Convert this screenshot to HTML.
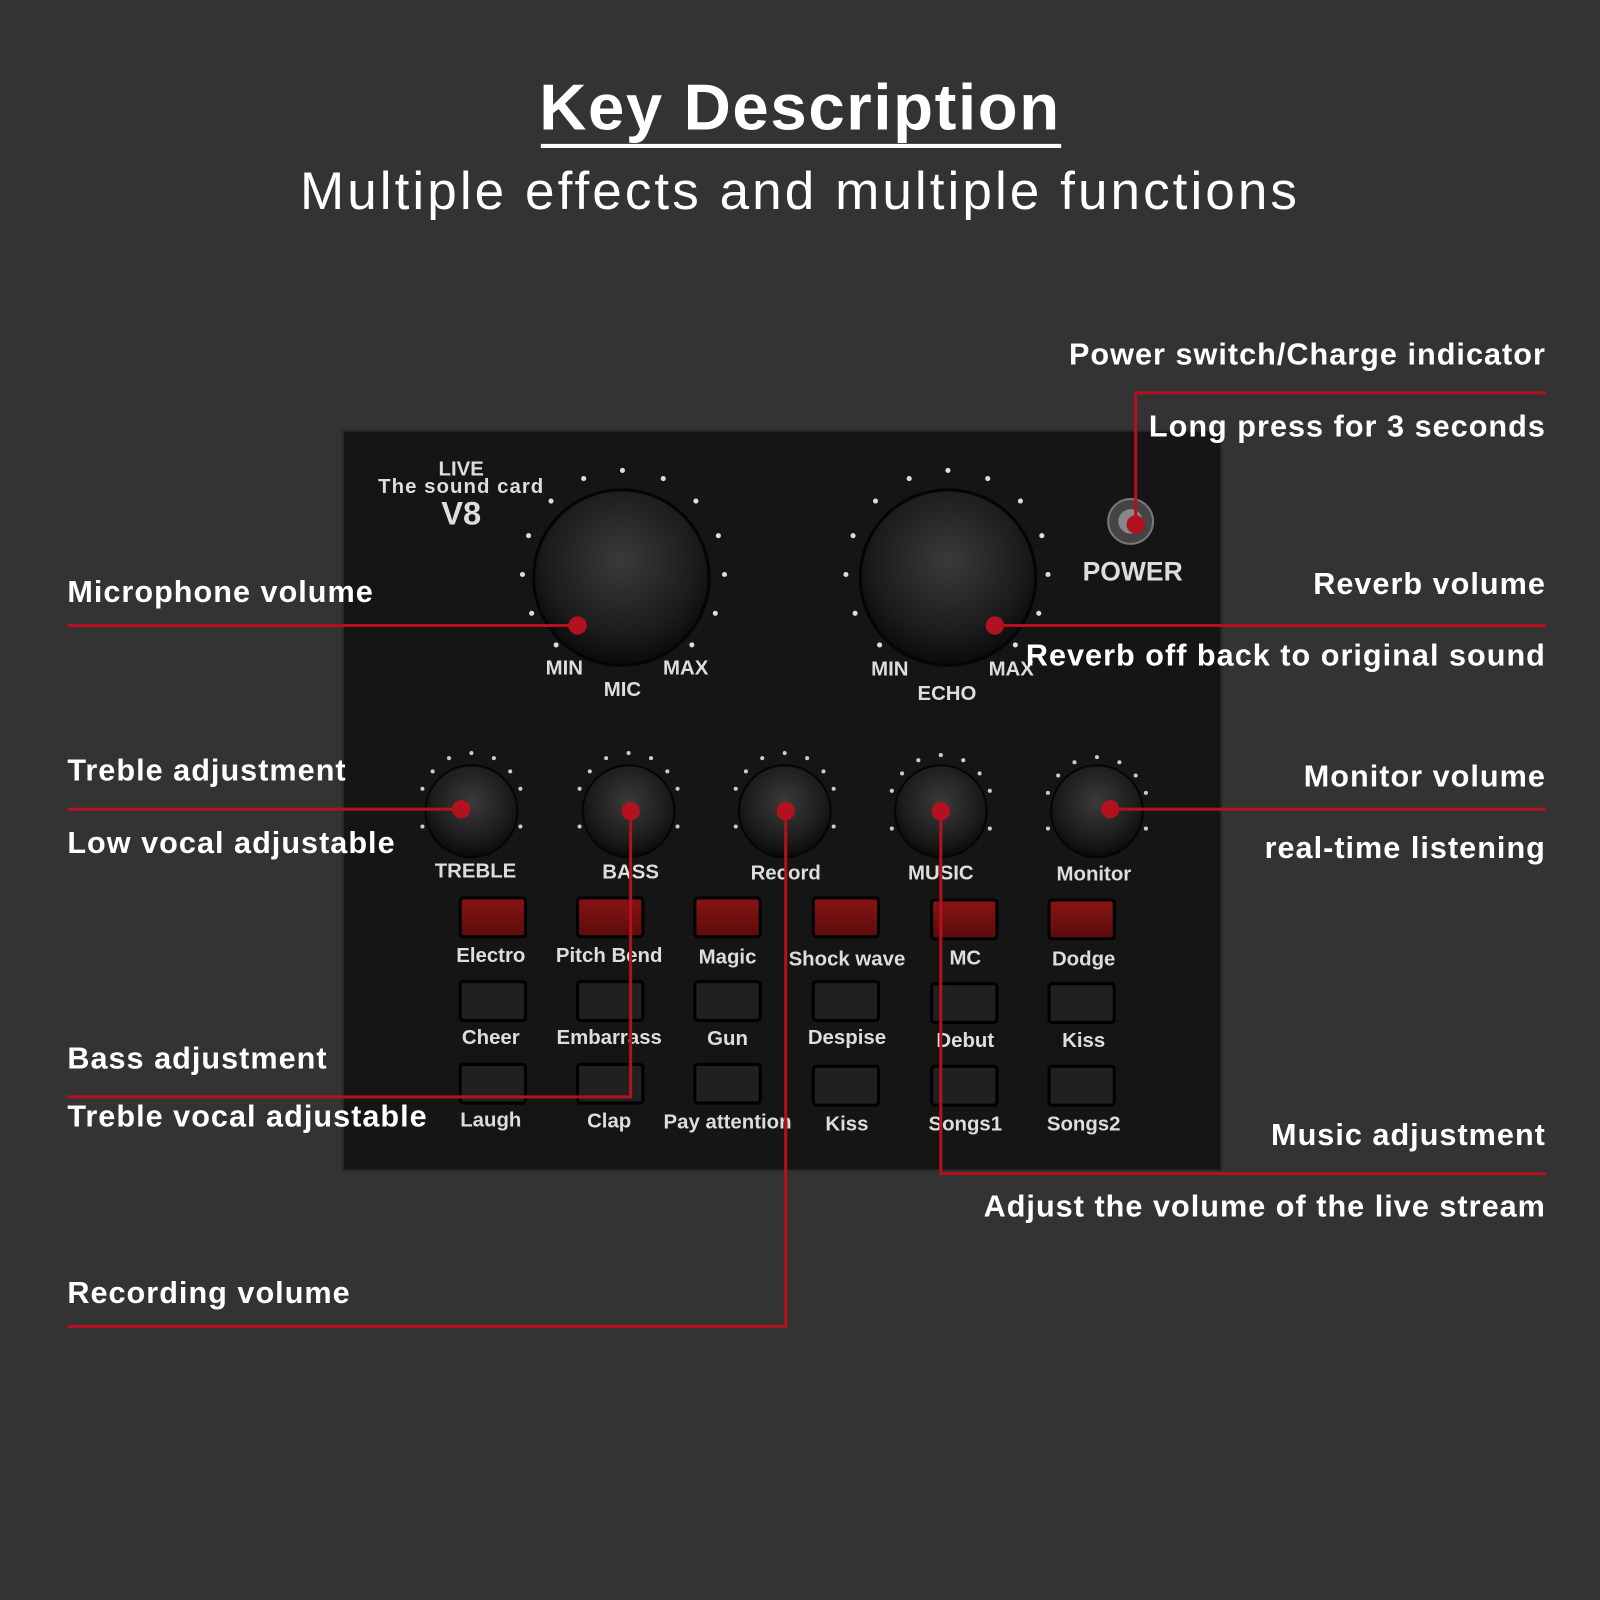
<!DOCTYPE html>
<html><head><meta charset="utf-8"><style>
html,body{margin:0;padding:0;background:#333;}
svg{display:block}
text{font-family:"Liberation Sans",sans-serif;}
.l{fill:#fff;font-weight:bold;font-size:30px;letter-spacing:1.0px}
.d{fill:#ddd;font-weight:bold;font-size:20px;}
.r{stroke:#b3111f;stroke-width:3;fill:none}
</style></head><body>
<svg width="1600" height="1600" viewBox="0 0 1568 1568" xmlns="http://www.w3.org/2000/svg">
<defs>
<radialGradient id="kg" cx="50%" cy="40%" r="60%"><stop offset="0" stop-color="#3a3a3a"/><stop offset="0.7" stop-color="#1c1c1c"/><stop offset="1" stop-color="#0a0a0a"/></radialGradient>
<linearGradient id="bg" x1="0" y1="0" x2="0" y2="1"><stop offset="0" stop-color="#8a1414"/><stop offset="1" stop-color="#5a0c0c"/></linearGradient>
</defs>
<rect width="1568" height="1568" fill="#333"/>
<text x="784" y="127" text-anchor="middle" fill="#fff" font-weight="bold" font-size="64" letter-spacing="1.6">Key Description</text>
<rect x="530" y="141" width="510" height="4" fill="#fff"/>
<text x="784" y="205" text-anchor="middle" fill="#fff" font-size="52" letter-spacing="3">Multiple effects and multiple functions</text>

<rect x="336" y="422" width="861" height="725" fill="#151515" stroke="#2a2a2a" stroke-width="2"/>
<text x="452" y="466" text-anchor="middle" class="d" font-size="19">LIVE</text>
<text x="452" y="483" text-anchor="middle" class="d" font-size="19" letter-spacing="1">The sound card</text>
<text x="452" y="514" text-anchor="middle" fill="#ddd" font-weight="bold" font-size="32">V8</text>

<g fill="#ddd">
<circle cx="610" cy="461" r="2.5"/><circle cx="572" cy="469" r="2.5"/><circle cx="650" cy="469" r="2.5"/><circle cx="540" cy="491" r="2.5"/><circle cx="682" cy="491" r="2.5"/><circle cx="518" cy="525" r="2.5"/><circle cx="704" cy="525" r="2.5"/><circle cx="512" cy="563" r="2.5"/><circle cx="710" cy="563" r="2.5"/><circle cx="521" cy="601" r="2.5"/><circle cx="701" cy="601" r="2.5"/><circle cx="545" cy="632" r="2.5"/><circle cx="678" cy="632" r="2.5"/>
<circle cx="929" cy="461" r="2.5"/><circle cx="891" cy="469" r="2.5"/><circle cx="968" cy="469" r="2.5"/><circle cx="858" cy="491" r="2.5"/><circle cx="1000" cy="491" r="2.5"/><circle cx="836" cy="525" r="2.5"/><circle cx="1021" cy="525" r="2.5"/><circle cx="829" cy="563" r="2.5"/><circle cx="1027" cy="563" r="2.5"/><circle cx="838" cy="601" r="2.5"/><circle cx="1018" cy="601" r="2.5"/><circle cx="862" cy="632" r="2.5"/><circle cx="995" cy="632" r="2.5"/>
</g>
<circle cx="609" cy="566" r="86" fill="url(#kg)" stroke="#050505" stroke-width="3"/>
<circle cx="929" cy="566" r="86" fill="url(#kg)" stroke="#050505" stroke-width="3"/>
<text x="553" y="661" text-anchor="middle" class="d" font-size="18">MIN</text>
<text x="672" y="661" text-anchor="middle" class="d" font-size="18">MAX</text>
<text x="610" y="682" text-anchor="middle" class="d">MIC</text>
<text x="872" y="662" text-anchor="middle" class="d" font-size="18">MIN</text>
<text x="991" y="662" text-anchor="middle" class="d" font-size="18">MAX</text>
<text x="928" y="686" text-anchor="middle" class="d">ECHO</text>

<circle cx="1108" cy="511" r="22" fill="#444" stroke="#777" stroke-width="2"/>
<circle cx="1108" cy="511" r="12" fill="#888"/>
<text x="1110" y="569" text-anchor="middle" fill="#ddd" font-weight="bold" font-size="26">POWER</text>

<g fill="#ccc">
<circle cx="462" cy="738" r="2"/><circle cx="440" cy="743" r="2"/><circle cx="484" cy="743" r="2"/><circle cx="424" cy="756" r="2"/><circle cx="500" cy="756" r="2"/><circle cx="414" cy="773" r="2"/><circle cx="510" cy="773" r="2"/><circle cx="414" cy="810" r="2"/><circle cx="510" cy="810" r="2"/>
<circle cx="616" cy="738" r="2"/><circle cx="594" cy="743" r="2"/><circle cx="638" cy="743" r="2"/><circle cx="578" cy="756" r="2"/><circle cx="654" cy="756" r="2"/><circle cx="568" cy="773" r="2"/><circle cx="664" cy="773" r="2"/><circle cx="568" cy="810" r="2"/><circle cx="664" cy="810" r="2"/>
<circle cx="769" cy="738" r="2"/><circle cx="747" cy="743" r="2"/><circle cx="791" cy="743" r="2"/><circle cx="731" cy="756" r="2"/><circle cx="807" cy="756" r="2"/><circle cx="721" cy="773" r="2"/><circle cx="817" cy="773" r="2"/><circle cx="721" cy="810" r="2"/><circle cx="817" cy="810" r="2"/>
<circle cx="922" cy="740" r="2"/><circle cx="900" cy="745" r="2"/><circle cx="944" cy="745" r="2"/><circle cx="884" cy="758" r="2"/><circle cx="960" cy="758" r="2"/><circle cx="874" cy="775" r="2"/><circle cx="970" cy="775" r="2"/><circle cx="874" cy="812" r="2"/><circle cx="970" cy="812" r="2"/>
<circle cx="1075" cy="742" r="2"/><circle cx="1053" cy="747" r="2"/><circle cx="1097" cy="747" r="2"/><circle cx="1037" cy="760" r="2"/><circle cx="1113" cy="760" r="2"/><circle cx="1027" cy="777" r="2"/><circle cx="1123" cy="777" r="2"/><circle cx="1027" cy="812" r="2"/><circle cx="1123" cy="812" r="2"/>
</g>
<g>
<circle cx="462" cy="795" r="45" fill="url(#kg)" stroke="#050505" stroke-width="2"/>
<circle cx="616" cy="795" r="45" fill="url(#kg)" stroke="#050505" stroke-width="2"/>
<circle cx="769" cy="795" r="45" fill="url(#kg)" stroke="#050505" stroke-width="2"/>
<circle cx="922" cy="795" r="45" fill="url(#kg)" stroke="#050505" stroke-width="2"/>
<circle cx="1075" cy="795" r="45" fill="url(#kg)" stroke="#050505" stroke-width="2"/>
</g>
<text x="466" y="860" text-anchor="middle" class="d">TREBLE</text>
<text x="618" y="861" text-anchor="middle" class="d">BASS</text>
<text x="770" y="862" text-anchor="middle" class="d">Record</text>
<text x="922" y="862" text-anchor="middle" class="d">MUSIC</text>
<text x="1072" y="863" text-anchor="middle" class="d">Monitor</text>

<g>
<rect x="451" y="880" width="64" height="38" rx="3" fill="url(#bg)" stroke="#000" stroke-width="3"/>
<rect x="566" y="880" width="64" height="38" rx="3" fill="url(#bg)" stroke="#000" stroke-width="3"/>
<rect x="681" y="880" width="64" height="38" rx="3" fill="url(#bg)" stroke="#000" stroke-width="3"/>
<rect x="797" y="880" width="64" height="38" rx="3" fill="url(#bg)" stroke="#000" stroke-width="3"/>
<rect x="913" y="882" width="64" height="38" rx="3" fill="url(#bg)" stroke="#000" stroke-width="3"/>
<rect x="1028" y="882" width="64" height="38" rx="3" fill="url(#bg)" stroke="#000" stroke-width="3"/>
</g>
<g fill="#202020" stroke="#000" stroke-width="3">
<rect x="451" y="962" width="64" height="38" rx="3"/><rect x="566" y="962" width="64" height="38" rx="3"/><rect x="681" y="962" width="64" height="38" rx="3"/><rect x="797" y="962" width="64" height="38" rx="3"/><rect x="913" y="964" width="64" height="38" rx="3"/><rect x="1028" y="964" width="64" height="38" rx="3"/>
<rect x="451" y="1043" width="64" height="38" rx="3"/><rect x="566" y="1043" width="64" height="38" rx="3"/><rect x="681" y="1043" width="64" height="38" rx="3"/><rect x="797" y="1045" width="64" height="38" rx="3"/><rect x="913" y="1045" width="64" height="38" rx="3"/><rect x="1028" y="1045" width="64" height="38" rx="3"/>
</g>
<g>
<text x="481" y="943" class="d" text-anchor="middle">Electro</text><text x="597" y="943" class="d" text-anchor="middle">Pitch Bend</text><text x="713" y="944" class="d" text-anchor="middle">Magic</text><text x="830" y="946" class="d" text-anchor="middle">Shock wave</text><text x="946" y="945" class="d" text-anchor="middle">MC</text><text x="1062" y="946" class="d" text-anchor="middle">Dodge</text>
<text x="481" y="1023" class="d" text-anchor="middle">Cheer</text><text x="597" y="1023" class="d" text-anchor="middle">Embarrass</text><text x="713" y="1024" class="d" text-anchor="middle">Gun</text><text x="830" y="1023" class="d" text-anchor="middle">Despise</text><text x="946" y="1026" class="d" text-anchor="middle">Debut</text><text x="1062" y="1026" class="d" text-anchor="middle">Kiss</text>
<text x="481" y="1104" class="d" text-anchor="middle">Laugh</text><text x="597" y="1105" class="d" text-anchor="middle">Clap</text><text x="713" y="1106" class="d" text-anchor="middle">Pay attention</text><text x="830" y="1108" class="d" text-anchor="middle">Kiss</text><text x="946" y="1108" class="d" text-anchor="middle">Songs1</text><text x="1062" y="1108" class="d" text-anchor="middle">Songs2</text>
</g>

<g class="r">
<path d="M66 613H566"/>
<path d="M66 793H452"/>
<path d="M66 1075H618V795"/>
<path d="M66 1300H770V795"/>
<path d="M922 795V1150H1515"/>
<path d="M1088 793H1515"/>
<path d="M975 613H1515"/>
<path d="M1113 514V385H1515"/>
</g>
<g fill="#b3111f">
<circle cx="566" cy="613" r="9"/><circle cx="452" cy="793" r="9"/><circle cx="618" cy="795" r="9"/><circle cx="770" cy="795" r="9"/><circle cx="922" cy="795" r="9"/><circle cx="1088" cy="793" r="9"/><circle cx="975" cy="613" r="9"/><circle cx="1113" cy="514" r="9"/>
</g>

<text x="66" y="590" class="l">Microphone volume</text>
<text x="66" y="765" class="l">Treble adjustment</text>
<text x="66" y="836" class="l">Low vocal adjustable</text>
<text x="66" y="1047" class="l">Bass adjustment</text>
<text x="66" y="1104" class="l">Treble vocal adjustable</text>
<text x="66" y="1277" class="l">Recording volume</text>
<text x="1515" y="357" class="l" text-anchor="end">Power switch/Charge indicator</text>
<text x="1515" y="428" class="l" text-anchor="end">Long press for 3 seconds</text>
<text x="1515" y="582" class="l" text-anchor="end">Reverb volume</text>
<text x="1515" y="652" class="l" text-anchor="end">Reverb off back to original sound</text>
<text x="1515" y="771" class="l" text-anchor="end">Monitor volume</text>
<text x="1515" y="841" class="l" text-anchor="end">real-time listening</text>
<text x="1515" y="1122" class="l" text-anchor="end">Music  adjustment</text>
<text x="1515" y="1192" class="l" text-anchor="end">Adjust the volume of the live stream</text>
</svg>
</body></html>
